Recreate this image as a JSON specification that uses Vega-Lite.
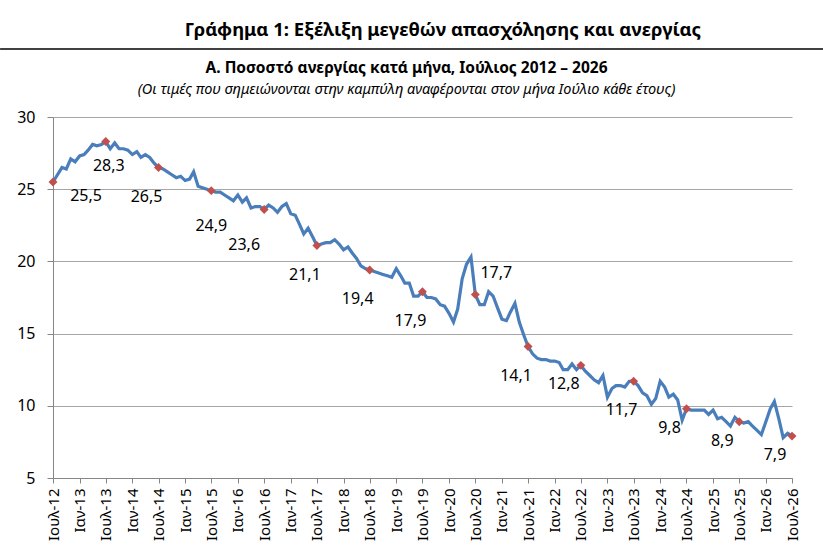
{
  "$schema": "https://vega.github.io/schema/vega-lite/v6.json",
  "autosize": "none",
  "width": 739,
  "height": 361,
  "padding": {"left": 53, "top": 117, "right": 31, "bottom": 80},
  "background": "white",
  "config": {
    "font": "Noto Sans",
    "view": {"stroke": null},
    "locale": {"number": {"decimal": ",", "thousands": ".", "grouping": [3], "currency": ["", " €"]}}
  },
  "data": {
    "values": [
      {"date": "2012-07-01", "rate": 25.5}, {"date": "2012-08-01", "rate": 26.0}, {"date": "2012-09-01", "rate": 26.5},
      {"date": "2012-10-01", "rate": 26.4}, {"date": "2012-11-01", "rate": 27.1}, {"date": "2012-12-01", "rate": 26.9},
      {"date": "2013-01-01", "rate": 27.3}, {"date": "2013-02-01", "rate": 27.4}, {"date": "2013-03-01", "rate": 27.7},
      {"date": "2013-04-01", "rate": 28.1}, {"date": "2013-05-01", "rate": 28.0}, {"date": "2013-06-01", "rate": 28.1},
      {"date": "2013-07-01", "rate": 28.3}, {"date": "2013-08-01", "rate": 27.8}, {"date": "2013-09-01", "rate": 28.2},
      {"date": "2013-10-01", "rate": 27.8}, {"date": "2013-11-01", "rate": 27.8}, {"date": "2013-12-01", "rate": 27.7},
      {"date": "2014-01-01", "rate": 27.4}, {"date": "2014-02-01", "rate": 27.6}, {"date": "2014-03-01", "rate": 27.2},
      {"date": "2014-04-01", "rate": 27.4}, {"date": "2014-05-01", "rate": 27.2}, {"date": "2014-06-01", "rate": 26.8},
      {"date": "2014-07-01", "rate": 26.5}, {"date": "2014-08-01", "rate": 26.4}, {"date": "2014-09-01", "rate": 26.2},
      {"date": "2014-10-01", "rate": 26.0}, {"date": "2014-11-01", "rate": 25.8}, {"date": "2014-12-01", "rate": 25.9},
      {"date": "2015-01-01", "rate": 25.6}, {"date": "2015-02-01", "rate": 25.7}, {"date": "2015-03-01", "rate": 26.2},
      {"date": "2015-04-01", "rate": 25.2}, {"date": "2015-05-01", "rate": 25.1}, {"date": "2015-06-01", "rate": 25.0},
      {"date": "2015-07-01", "rate": 24.9}, {"date": "2015-08-01", "rate": 24.8}, {"date": "2015-09-01", "rate": 24.8},
      {"date": "2015-10-01", "rate": 24.6}, {"date": "2015-11-01", "rate": 24.4}, {"date": "2015-12-01", "rate": 24.2},
      {"date": "2016-01-01", "rate": 24.6}, {"date": "2016-02-01", "rate": 24.1}, {"date": "2016-03-01", "rate": 24.4},
      {"date": "2016-04-01", "rate": 23.7}, {"date": "2016-05-01", "rate": 23.8}, {"date": "2016-06-01", "rate": 23.8},
      {"date": "2016-07-01", "rate": 23.6}, {"date": "2016-08-01", "rate": 23.9}, {"date": "2016-09-01", "rate": 23.7},
      {"date": "2016-10-01", "rate": 23.4}, {"date": "2016-11-01", "rate": 23.8}, {"date": "2016-12-01", "rate": 24.0},
      {"date": "2017-01-01", "rate": 23.3}, {"date": "2017-02-01", "rate": 23.2}, {"date": "2017-03-01", "rate": 22.6},
      {"date": "2017-04-01", "rate": 21.9}, {"date": "2017-05-01", "rate": 22.3}, {"date": "2017-06-01", "rate": 21.7},
      {"date": "2017-07-01", "rate": 21.1}, {"date": "2017-08-01", "rate": 21.2}, {"date": "2017-09-01", "rate": 21.3},
      {"date": "2017-10-01", "rate": 21.3}, {"date": "2017-11-01", "rate": 21.5}, {"date": "2017-12-01", "rate": 21.2},
      {"date": "2018-01-01", "rate": 20.8}, {"date": "2018-02-01", "rate": 21.0}, {"date": "2018-03-01", "rate": 20.6},
      {"date": "2018-04-01", "rate": 20.2}, {"date": "2018-05-01", "rate": 19.7}, {"date": "2018-06-01", "rate": 19.5},
      {"date": "2018-07-01", "rate": 19.4}, {"date": "2018-08-01", "rate": 19.3}, {"date": "2018-09-01", "rate": 19.2},
      {"date": "2018-10-01", "rate": 19.1}, {"date": "2018-11-01", "rate": 19.0}, {"date": "2018-12-01", "rate": 18.9},
      {"date": "2019-01-01", "rate": 19.5}, {"date": "2019-02-01", "rate": 19.0}, {"date": "2019-03-01", "rate": 18.5},
      {"date": "2019-04-01", "rate": 18.5}, {"date": "2019-05-01", "rate": 17.6}, {"date": "2019-06-01", "rate": 17.6},
      {"date": "2019-07-01", "rate": 17.9}, {"date": "2019-08-01", "rate": 17.5}, {"date": "2019-09-01", "rate": 17.5},
      {"date": "2019-10-01", "rate": 17.4}, {"date": "2019-11-01", "rate": 17.0}, {"date": "2019-12-01", "rate": 16.9},
      {"date": "2020-01-01", "rate": 16.4}, {"date": "2020-02-01", "rate": 15.8}, {"date": "2020-03-01", "rate": 16.7},
      {"date": "2020-04-01", "rate": 18.8}, {"date": "2020-05-01", "rate": 19.8}, {"date": "2020-06-01", "rate": 20.3},
      {"date": "2020-07-01", "rate": 17.7}, {"date": "2020-08-01", "rate": 17.0}, {"date": "2020-09-01", "rate": 17.0},
      {"date": "2020-10-01", "rate": 17.9}, {"date": "2020-11-01", "rate": 17.6}, {"date": "2020-12-01", "rate": 16.8},
      {"date": "2021-01-01", "rate": 16.0}, {"date": "2021-02-01", "rate": 15.9}, {"date": "2021-03-01", "rate": 16.5},
      {"date": "2021-04-01", "rate": 17.1}, {"date": "2021-05-01", "rate": 15.8}, {"date": "2021-06-01", "rate": 14.9},
      {"date": "2021-07-01", "rate": 14.1}, {"date": "2021-08-01", "rate": 13.6}, {"date": "2021-09-01", "rate": 13.3},
      {"date": "2021-10-01", "rate": 13.2}, {"date": "2021-11-01", "rate": 13.2}, {"date": "2021-12-01", "rate": 13.1},
      {"date": "2022-01-01", "rate": 13.1}, {"date": "2022-02-01", "rate": 13.0}, {"date": "2022-03-01", "rate": 12.5},
      {"date": "2022-04-01", "rate": 12.5}, {"date": "2022-05-01", "rate": 12.9}, {"date": "2022-06-01", "rate": 12.5},
      {"date": "2022-07-01", "rate": 12.8}, {"date": "2022-08-01", "rate": 12.4}, {"date": "2022-09-01", "rate": 12.1},
      {"date": "2022-10-01", "rate": 11.8}, {"date": "2022-11-01", "rate": 11.6}, {"date": "2022-12-01", "rate": 12.1},
      {"date": "2023-01-01", "rate": 10.6}, {"date": "2023-02-01", "rate": 11.2}, {"date": "2023-03-01", "rate": 11.4},
      {"date": "2023-04-01", "rate": 11.4}, {"date": "2023-05-01", "rate": 11.3}, {"date": "2023-06-01", "rate": 11.7},
      {"date": "2023-07-01", "rate": 11.7}, {"date": "2023-08-01", "rate": 11.4}, {"date": "2023-09-01", "rate": 10.9},
      {"date": "2023-10-01", "rate": 10.7}, {"date": "2023-11-01", "rate": 10.1}, {"date": "2023-12-01", "rate": 10.5},
      {"date": "2024-01-01", "rate": 11.7}, {"date": "2024-02-01", "rate": 11.3}, {"date": "2024-03-01", "rate": 10.6},
      {"date": "2024-04-01", "rate": 10.8}, {"date": "2024-05-01", "rate": 10.4}, {"date": "2024-06-01", "rate": 9.0},
      {"date": "2024-07-01", "rate": 9.8}, {"date": "2024-08-01", "rate": 9.7}, {"date": "2024-09-01", "rate": 9.7},
      {"date": "2024-10-01", "rate": 9.7}, {"date": "2024-11-01", "rate": 9.7}, {"date": "2024-12-01", "rate": 9.4},
      {"date": "2025-01-01", "rate": 9.7}, {"date": "2025-02-01", "rate": 9.1}, {"date": "2025-03-01", "rate": 9.2},
      {"date": "2025-04-01", "rate": 8.9}, {"date": "2025-05-01", "rate": 8.6}, {"date": "2025-06-01", "rate": 9.2},
      {"date": "2025-07-01", "rate": 8.9}, {"date": "2025-08-01", "rate": 8.8}, {"date": "2025-09-01", "rate": 8.9},
      {"date": "2025-10-01", "rate": 8.6}, {"date": "2025-11-01", "rate": 8.3}, {"date": "2025-12-01", "rate": 8.0},
      {"date": "2026-01-01", "rate": 8.9}, {"date": "2026-02-01", "rate": 9.8}, {"date": "2026-03-01", "rate": 10.3},
      {"date": "2026-04-01", "rate": 9.1}, {"date": "2026-05-01", "rate": 7.8}, {"date": "2026-06-01", "rate": 8.1},
      {"date": "2026-07-01", "rate": 7.9}
    ]
  },
  "layer": [
    {
      "encoding": {
        "x": {
          "field": "date",
          "type": "temporal",
          "title": null,
          "scale": {
            "type": "utc",
            "domain": [
              {"year": 2012, "month": 7, "date": 1, "utc": true},
              {"year": 2026, "month": 7, "date": 1, "utc": true}
            ],
            "nice": false
          },
          "axis": {
            "tickCount": {"interval": "month", "step": 6},
            "labelExpr": "(utcmonth(datum.value) == 6 ? 'Ιουλ-' : 'Ιαν-') + utcFormat(datum.value, '%y')",
            "labelAngle": 270,
            "labelAlign": "right",
            "labelBaseline": "middle",
            "labelFontSize": 15,
            "labelColor": "#000000",
            "labelPadding": 5,
            "labelOverlap": false,
            "labelFlush": false,
            "grid": false,
            "domainColor": "#868686",
            "tickColor": "#868686",
            "tickSize": 5
          }
        },
        "y": {
          "field": "rate",
          "type": "quantitative",
          "title": null,
          "scale": {"domain": [5, 30], "nice": false, "zero": false},
          "axis": {
            "values": [5, 10, 15, 20, 25, 30],
            "labelFontSize": 16,
            "labelColor": "#000000",
            "labelPadding": 12,
            "grid": true,
            "gridColor": "#a6a6a6",
            "gridWidth": 1,
            "domainColor": "#868686",
            "tickColor": "#868686",
            "tickSize": 6
          }
        }
      },
      "layer": [
        {
          "mark": {"type": "line", "color": "#4a7ebb", "strokeWidth": 3.2, "interpolate": "linear"}
        },
        {
          "transform": [{"filter": "utcmonth(toDate(datum.date)) == 6"}],
          "mark": {"type": "point", "shape": "diamond", "filled": true, "color": "#c0504d", "size": 80, "opacity": 1}
        },
        {
          "transform": [{"filter": "utcmonth(toDate(datum.date)) == 6 && utcyear(toDate(datum.date)) == 2012"}],
          "mark": {"type": "text", "fontSize": 16, "color": "#000000", "dx": 33, "dy": 14},
          "encoding": {"text": {"field": "rate", "type": "quantitative", "format": ".1f"}}
        },
        {
          "transform": [{"filter": "utcmonth(toDate(datum.date)) == 6 && utcyear(toDate(datum.date)) == 2013"}],
          "mark": {"type": "text", "fontSize": 16, "color": "#000000", "dx": 3, "dy": 24},
          "encoding": {"text": {"field": "rate", "type": "quantitative", "format": ".1f"}}
        },
        {
          "transform": [{"filter": "utcmonth(toDate(datum.date)) == 6 && utcyear(toDate(datum.date)) == 2020"}],
          "mark": {"type": "text", "fontSize": 16, "color": "#000000", "dx": 21, "dy": -22},
          "encoding": {"text": {"field": "rate", "type": "quantitative", "format": ".1f"}}
        },
        {
          "transform": [{"filter": "utcmonth(toDate(datum.date)) == 6 && utcyear(toDate(datum.date)) == 2015"}],
          "mark": {"type": "text", "fontSize": 16, "color": "#000000", "dx": 0, "dy": 35},
          "encoding": {"text": {"field": "rate", "type": "quantitative", "format": ".1f"}}
        },
        {
          "transform": [{"filter": "utcmonth(toDate(datum.date)) == 6 && utcyear(toDate(datum.date)) == 2016"}],
          "mark": {"type": "text", "fontSize": 16, "color": "#000000", "dx": -20, "dy": 36},
          "encoding": {"text": {"field": "rate", "type": "quantitative", "format": ".1f"}}
        },
        {
          "transform": [{"filter": "utcmonth(toDate(datum.date)) == 6 && indexof([2014, 2017, 2018, 2019, 2021, 2023], utcyear(toDate(datum.date))) >= 0"}],
          "mark": {"type": "text", "fontSize": 16, "color": "#000000", "dx": -12, "dy": 29},
          "encoding": {"text": {"field": "rate", "type": "quantitative", "format": ".1f"}}
        },
        {
          "transform": [{"filter": "utcmonth(toDate(datum.date)) == 6 && indexof([2022, 2024, 2025, 2026], utcyear(toDate(datum.date))) >= 0"}],
          "mark": {"type": "text", "fontSize": 16, "color": "#000000", "dx": -17, "dy": 19},
          "encoding": {"text": {"field": "rate", "type": "quantitative", "format": ".1f"}}
        }
      ]
    },
    {
      "data": {"values": [{"heading": "Γράφημα 1: Εξέλιξη μεγεθών απασχόλησης και ανεργίας"}]},
      "mark": {"type": "text", "fontSize": 18.5, "fontWeight": "bold", "color": "#000000", "clip": false, "align": "center", "baseline": "middle"},
      "encoding": {
        "x": {"datum": {"year": 2019, "month": 11, "date": 20, "utc": true}, "type": "temporal", "title": null},
        "y": {"datum": 36.0, "type": "quantitative", "title": null},
        "text": {"field": "heading", "type": "nominal"}
      }
    },
    {
      "data": {"values": [{"heading": "Α. Ποσοστό ανεργίας κατά μήνα, Ιούλιος 2012 – 2026"}]},
      "mark": {"type": "text", "fontSize": 15.5, "fontWeight": "bold", "color": "#000000", "clip": false, "align": "center", "baseline": "middle"},
      "encoding": {
        "x": {"datum": {"year": 2019, "month": 3, "date": 13, "utc": true}, "type": "temporal", "title": null},
        "y": {"datum": 33.42, "type": "quantitative", "title": null},
        "text": {"field": "heading", "type": "nominal"}
      }
    },
    {
      "data": {"values": [{"note": "(Οι τιμές που σημειώνονται στην καμπύλη αναφέρονται στον μήνα Ιούλιο κάθε έτους)"}]},
      "mark": {"type": "text", "fontSize": 14.5, "fontStyle": "italic", "color": "#000000", "clip": false, "align": "center", "baseline": "middle"},
      "encoding": {
        "x": {"datum": {"year": 2019, "month": 3, "date": 13, "utc": true}, "type": "temporal", "title": null},
        "y": {"datum": 31.88, "type": "quantitative", "title": null},
        "text": {"field": "note", "type": "nominal"}
      }
    },
    {
      "data": {"values": [{"k": 1}]},
      "mark": {"type": "rule", "color": "#000000", "strokeWidth": 1.5, "clip": false},
      "encoding": {
        "x": {"datum": {"year": 2011, "month": 7, "date": 1, "utc": true}, "type": "temporal", "title": null},
        "x2": {"datum": {"year": 2027, "month": 2, "date": 1, "utc": true}},
        "y": {"datum": 34.71, "type": "quantitative", "title": null}
      }
    }
  ]
}
